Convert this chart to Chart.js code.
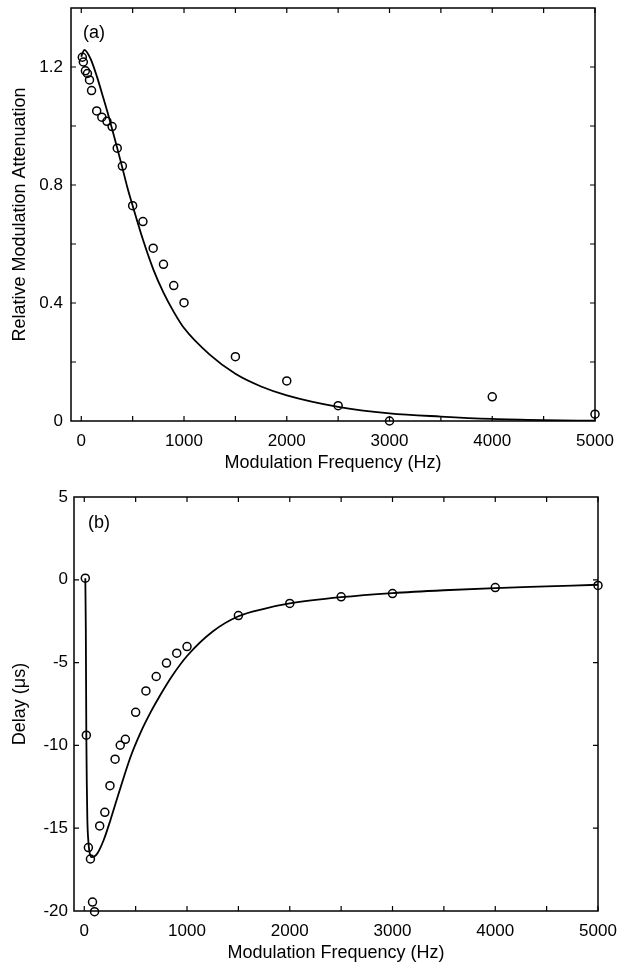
<!DOCTYPE html>
<html lang="en">
<head>
<meta charset="UTF-8" />
<title>Modulation Attenuation and Delay</title>
<script src="https://cdn.jsdelivr.net/npm/chart.js"></script>
<style>
  html, body { margin: 0; padding: 0; background: #fff; }
  #wrap { position: relative; width: 619px; height: 964px; }
  .panel { position: absolute; left: 0; width: 619px; }
  #panelA { top: 0; height: 475px; }
  #panelB { top: 475px; height: 489px; }
</style>
</head>
<body>
<div id="wrap">
  <div class="panel" id="panelA"><canvas id="chartA"></canvas></div>
  <div class="panel" id="panelB"><canvas id="chartB"></canvas></div>
</div>

<script>
  // measured points (same frequencies in both panels)
  const freqs = [10, 20, 40, 60, 80, 100, 150, 200, 250, 300, 350, 400, 500, 600, 700, 800, 900, 1000, 1500, 2000, 2500, 3000, 4000, 5000];
  const attenuation = [1.233, 1.217, 1.187, 1.178, 1.156, 1.12, 1.051, 1.03, 1.016, 0.998, 0.925, 0.864, 0.73, 0.676, 0.586, 0.531, 0.459, 0.401, 0.218, 0.136, 0.052, 0.0, 0.082, 0.023];
  const delay = [0.1, -9.38, -16.17, -16.86, -19.46, -20.04, -14.86, -14.04, -12.43, -10.83, -9.99, -9.63, -8.0, -6.71, -5.84, -5.03, -4.43, -4.03, -2.16, -1.43, -1.03, -0.83, -0.47, -0.34];

  // model curves
  const fitFreqA = [0, 15, 30, 90, 150, 215, 265, 300, 350, 400, 450, 500, 600, 700, 800, 900, 1000, 1250, 1500, 1750, 2000, 2500, 3000, 3500, 4000, 4500, 5000];
  const fitA = [1.235, 1.25, 1.258, 1.228, 1.17, 1.095, 1.035, 0.99, 0.925, 0.858, 0.79, 0.73, 0.615, 0.515, 0.435, 0.37, 0.315, 0.225, 0.16, 0.117, 0.087, 0.048, 0.026, 0.015, 0.007, 0.003, 0.001];
  const fitFreqB = [10, 15, 20, 25, 30, 40, 50, 70, 100, 130, 190, 255, 350, 450, 550, 650, 750, 850, 1000, 1250, 1500, 1750, 2000, 2500, 3000, 3500, 4000, 4500, 5000];
  const fitB = [0.1, -3.0, -9.4, -12.5, -14.5, -15.8, -16.4, -16.75, -16.7, -16.5, -15.7, -14.5, -12.6, -10.7, -9.2, -7.95, -6.85, -5.85, -4.6, -3.12, -2.2, -1.75, -1.43, -1.05, -0.8, -0.63, -0.5, -0.4, -0.3];

  // axes
  const xLabels = [0, 1000, 2000, 3000, 4000, 5000];
  const xMarks = [0, 500, 1000, 1500, 2000, 2500, 3000, 3500, 4000, 4500, 5000];
  const yLabelsA = [0, 0.4, 0.8, 1.2];
  const yMarksA = [0.2, 0.4, 0.6, 0.8, 1.0, 1.2];
  const yLabelsB = [-20, -15, -10, -5, 0, 5];
  const yMarksB = [-15, -10, -5, 0];

  const FONT = '"Liberation Sans", Arial, Helvetica, sans-serif';
  Chart.defaults.font.family = FONT;
  Chart.defaults.font.size = 17;
  Chart.defaults.color = '#000';

  // box, inward ticks on all four sides, panel tag
  const frameTicks = {
    id: 'frameTicks',
    afterDraw(chart, args, o) {
      const { ctx, chartArea: a, scales: { x, y } } = chart;
      ctx.save();
      ctx.strokeStyle = '#000';
      ctx.lineWidth = 1.5;
      ctx.strokeRect(a.left, a.top, a.right - a.left, a.bottom - a.top);
      ctx.lineWidth = 1.2;
      ctx.beginPath();
      o.xMarks.forEach(v => {
        const px = x.getPixelForValue(v);
        ctx.moveTo(px, a.bottom); ctx.lineTo(px, a.bottom - 5);
        ctx.moveTo(px, a.top); ctx.lineTo(px, a.top + 5);
      });
      o.yMarks.forEach(v => {
        const py = y.getPixelForValue(v);
        ctx.moveTo(a.left, py); ctx.lineTo(a.left + 5, py);
        ctx.moveTo(a.right, py); ctx.lineTo(a.right - 5, py);
      });
      ctx.stroke();
      ctx.fillStyle = '#000';
      ctx.font = '18px ' + FONT;
      ctx.textBaseline = 'middle';
      ctx.fillText(o.tag, a.left + o.tagX, a.top + o.tagY);
      ctx.restore();
    }
  };

  // stop chart.js from reserving room for overhanging tick labels
  function noOverhang(s) {
    s.paddingTop = 0; s.paddingBottom = 0; s.paddingLeft = 0; s.paddingRight = 0;
  }

  function makePanel(id, p) {
    const pts = p.xs.map((f, i) => ({ x: f, y: p.ys[i] }));
    const fit = p.fx.map((f, i) => ({ x: f, y: p.fy[i] }));
    return new Chart(document.getElementById(id), {
      type: 'scatter',
      data: {
        datasets: [
          {
            data: fit,
            showLine: true,
            borderColor: '#000',
            borderWidth: 1.8,
            pointRadius: 0,
            cubicInterpolationMode: 'monotone',
            order: 2
          },
          {
            data: pts,
            pointStyle: 'circle',
            pointRadius: 4,
            pointBorderWidth: 1.5,
            pointBorderColor: '#000',
            pointBackgroundColor: 'rgba(0,0,0,0)',
            clip: false,
            order: 1
          }
        ]
      },
      options: {
        animation: false,
        responsive: true,
        maintainAspectRatio: false,
        devicePixelRatio: 1,
        layout: { padding: p.padding },
        plugins: {
          legend: { display: false },
          tooltip: { enabled: false },
          frameTicks: { xMarks: xMarks, yMarks: p.yMarks, tag: p.tag, tagX: p.tagX, tagY: p.tagY }
        },
        scales: {
          x: {
            type: 'linear',
            min: -100,
            max: 5000,
            grid: { display: false, drawTicks: false },
            border: { display: false },
            afterBuildTicks: s => { s.ticks = xLabels.map(v => ({ value: v })); },
            afterFit: s => { s.height = p.xHeight; noOverhang(s); },
            ticks: { padding: 10, maxRotation: 0, autoSkip: false, callback: v => String(v) },
            title: { display: true, text: 'Modulation Frequency (Hz)', font: { size: 18 }, padding: { top: 0, bottom: p.xTitlePad } }
          },
          y: {
            type: 'linear',
            min: p.yMin,
            max: p.yMax,
            grid: { display: false, drawTicks: false },
            border: { display: false },
            afterBuildTicks: s => { s.ticks = p.yLabels.map(v => ({ value: v })); },
            afterFit: s => { s.width = p.yWidth; noOverhang(s); },
            ticks: { padding: p.yTickPad, autoSkip: false, callback: v => String(v) },
            title: { display: true, text: p.yTitle, font: { size: 18 }, padding: { top: 9, bottom: 0 } }
          }
        }
      },
      plugins: [frameTicks]
    });
  }

  makePanel('chartA', {
    xs: freqs, ys: attenuation, fx: fitFreqA, fy: fitA,
    yMin: 0, yMax: 1.4, yLabels: yLabelsA, yMarks: yMarksA,
    yTitle: 'Relative Modulation Attenuation',
    padding: { top: 8, right: 24, left: 0, bottom: 0 },
    yWidth: 71, xHeight: 54, xTitlePad: 1, yTickPad: 8,
    tag: '(a)', tagX: 12, tagY: 25
  });

  makePanel('chartB', {
    xs: freqs, ys: delay, fx: fitFreqB, fy: fitB,
    yMin: -20, yMax: 5, yLabels: yLabelsB, yMarks: yMarksB,
    yTitle: 'Delay (\u03bcs)',
    padding: { top: 22, right: 21, left: 0, bottom: 0 },
    yWidth: 74, xHeight: 53, xTitlePad: 0, yTickPad: 6,
    tag: '(b)', tagX: 14, tagY: 26
  });
</script>
</body>
</html>
